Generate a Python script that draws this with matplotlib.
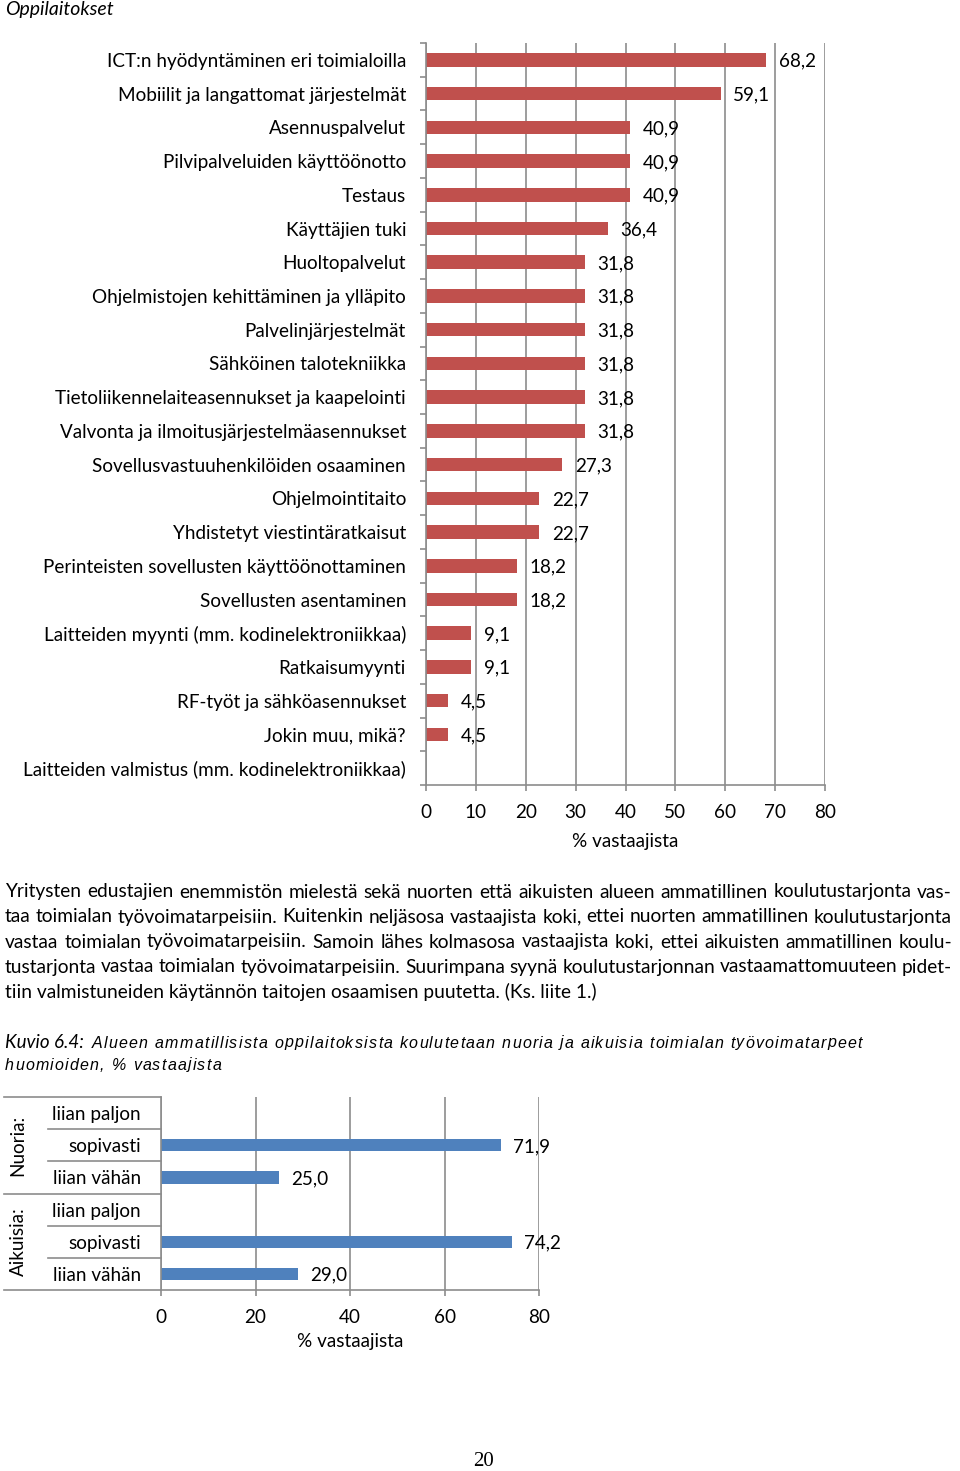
import numpy as np
import matplotlib.pyplot as plt
from matplotlib import transforms

# --- data -------------------------------------------------------------
title1 = "Oppilaitokset"
cats1 = ["ICT:n hyödyntäminen eri toimialoilla",
         "Mobiilit ja langattomat järjestelmät",
         "Asennuspalvelut",
         "Pilvipalveluiden käyttöönotto",
         "Testaus",
         "Käyttäjien tuki",
         "Huoltopalvelut",
         "Ohjelmistojen kehittäminen ja ylläpito",
         "Palvelinjärjestelmät",
         "Sähköinen talotekniikka",
         "Tietoliikennelaiteasennukset ja kaapelointi",
         "Valvonta ja ilmoitusjärjestelmäasennukset",
         "Sovellusvastuuhenkilöiden osaaminen",
         "Ohjelmointitaito",
         "Yhdistetyt viestintäratkaisut",
         "Perinteisten sovellusten käyttöönottaminen",
         "Sovellusten asentaminen",
         "Laitteiden myynti (mm. kodinelektroniikkaa)",
         "Ratkaisumyynti",
         "RF-työt ja sähköasennukset",
         "Jokin muu, mikä?",
         "Laitteiden valmistus (mm. kodinelektroniikkaa)"]
vals1 = [68.2, 59.1, 40.9, 40.9, 40.9, 36.4, 31.8, 31.8, 31.8, 31.8, 31.8,
         31.8, 27.3, 22.7, 22.7, 18.2, 18.2, 9.1, 9.1, 4.5, 4.5, 0.0]

groups2 = ["Nuoria:", "Aikuisia:"]
cats2 = ["liian paljon", "sopivasti", "liian vähän"]
vals2 = [[0.0, 71.9, 25.0],
         [0.0, 74.2, 29.0]]
xlabel = "% vastaajista"

paragraph = [
    "Yritysten edustajien enemmistön mielestä sekä nuorten että aikuisten alueen ammatillinen koulutustarjonta vas-",
    "taa toimialan työvoimatarpeisiin. Kuitenkin neljäsosa vastaajista koki, ettei nuorten ammatillinen koulutustarjonta",
    "vastaa toimialan työvoimatarpeisiin. Samoin lähes kolmasosa vastaajista koki, ettei aikuisten ammatillinen koulu-",
    "tustarjonta vastaa toimialan työvoimatarpeisiin. Suurimpana syynä koulutustarjonnan vastaamattomuuteen pidet-",
    "tiin valmistuneiden käytännön taitojen osaamisen puutetta. (Ks. liite 1.)",
]
caption_head = "Kuvio 6.4:"
caption = ["Alueen ammatillisista oppilaitoksista koulutetaan nuoria ja aikuisia toimialan työvoimatarpeet",
           "huomioiden, % vastaajista"]
page_no = "20"

# --- setup ------------------------------------------------------------
plt.rcParams['font.family'] = ['Lato', 'DejaVu Sans']
W, H = 960, 1471
fig = plt.figure(figsize=(9.6, 14.71), dpi=100)
GRAY = '#8C8C8C'
FS = 13.6

def fx(x):
    return x / W

def fy(y):
    return 1 - y / H

def axes_px(left, top, right, bottom):
    return fig.add_axes([fx(left), fy(bottom), (right - left) / W, (bottom - top) / H])

def fmt(v):
    return f"{v:.1f}".replace('.', ',')

def style_axes(ax):
    for s in ['top', 'right']:
        ax.spines[s].set_visible(False)
    for s in ['left', 'bottom']:
        ax.spines[s].set_color(GRAY)
        ax.spines[s].set_linewidth(1.2)
    ax.grid(axis='x', color=GRAY, lw=1.2)
    ax.set_axisbelow(True)
    ax.tick_params(axis='x', length=4, width=1.2, color=GRAY, pad=10, labelsize=FS)

fig.text(fx(5), fy(9), title1, style='italic', fontsize=14, ha='left', va='center')

# --- chart 1 ----------------------------------------------------------
ax1 = axes_px(426, 43, 825, 785)
y1 = np.arange(len(cats1))
ax1.barh(y1, vals1, height=0.4, color='#C0504D')
ax1.set_xlim(0, 80)
ax1.set_ylim(len(cats1) - 0.5, -0.5)
ax1.set_xticks(np.arange(0, 81, 10))
ax1.set_yticks(y1)
ax1.set_yticklabels(cats1, fontsize=FS)
ax1.set_yticks(np.arange(-0.5, len(cats1), 1), minor=True)
style_axes(ax1)
ax1.tick_params(axis='y', which='major', length=0, pad=14.4)
ax1.tick_params(axis='y', which='minor', length=4, width=1.2, color=GRAY)
for yi, v in zip(y1, vals1):
    if v > 0:
        ax1.annotate(fmt(v), (v, yi), xytext=(9, -1), textcoords='offset points',
                     ha='left', va='center', fontsize=FS)
fig.text(fx(625), fy(841), xlabel, fontsize=FS, ha='center', va='center')

# --- chart 2 ----------------------------------------------------------
ax2 = axes_px(161, 1097, 539, 1290)
labels2 = cats2 * len(groups2)
flat2 = [v for g in vals2 for v in g]
y2 = np.arange(len(labels2))
ax2.barh(y2, flat2, height=0.38, color='#4F81BD')
ax2.set_xlim(0, 80)
ax2.set_ylim(len(labels2) - 0.5, -0.5)
ax2.set_xticks(np.arange(0, 81, 20))
ax2.set_yticks(y2)
ax2.set_yticklabels(labels2, fontsize=FS)
style_axes(ax2)
ax2.tick_params(axis='y', length=0, pad=14.4)
for yi, v in zip(y2, flat2):
    if v > 0:
        ax2.annotate(fmt(v), (v, yi), xytext=(9, -1), textcoords='offset points',
                     ha='left', va='center', fontsize=FS)
trans = transforms.blended_transform_factory(ax2.transAxes, ax2.transData)
aw = 539 - 161
for b in np.arange(-0.5, len(labels2), 1):
    full = abs((b + 0.5) % len(cats2)) < 1e-9
    x0 = (4 - 161) / aw if full else (48 - 161) / aw
    ax2.plot([x0, 0], [b, b], transform=trans, clip_on=False, color=GRAY, lw=1.2)
for gi, g in enumerate(groups2):
    yc = gi * len(cats2) + (len(cats2) - 1) / 2
    ax2.text((18 - 161) / aw, yc, g, transform=trans, rotation=90,
             ha='center', va='center', fontsize=FS)
fig.text(fx(350), fy(1341), xlabel, fontsize=FS, ha='center', va='center')

# --- body text --------------------------------------------------------
r = fig.canvas.get_renderer()

def width_of(s, **kw):
    t = fig.text(0, 0, s, **kw)
    w = t.get_window_extent(renderer=r).width
    t.remove()
    return w

def justify(line, y, x0, x1, **kw):
    words = line.split(' ')
    ws = [width_of(w, **kw) for w in words]
    gap = (x1 - x0 - sum(ws)) / (len(words) - 1)
    x = x0
    for w, wd in zip(words, ws):
        fig.text(fx(x), fy(y), w, ha='left', va='center', **kw)
        x += wd + gap

PFS = 13.8
for i, line in enumerate(paragraph):
    yy = 892 + 25 * i
    if i < len(paragraph) - 1:
        justify(line, yy, 5, 952, fontsize=PFS)
    else:
        fig.text(fx(5), fy(yy), line, fontsize=PFS, ha='left', va='center')

# caption with letter spacing
fig.text(fx(5), fy(1043), caption_head, style='italic', fontsize=13.5, ha='left', va='center')
ckw = dict(family='Liberation Sans', style='italic', fontsize=11.5)
space_w = width_of('a a', **ckw) - width_of('aa', **ckw)

def char_widths(s):
    return [space_w if c == ' ' else width_of(c, **ckw) for c in s]

cw0 = char_widths(caption[0])
track = (862 - 92 - sum(cw0)) / (len(caption[0]) - 1)
for s, x0, yy in zip(caption, [92, 5], [1043, 1065]):
    x = x0
    for c, wd in zip(s, char_widths(s)):
        if c != ' ':
            fig.text(fx(x), fy(yy), c, ha='left', va='center', **ckw)
        x += wd + track

fig.text(fx(483), fy(1461), page_no, family='Liberation Serif', fontsize=15,
         ha='center', va='center')

fig.savefig('out.png', dpi=100)
